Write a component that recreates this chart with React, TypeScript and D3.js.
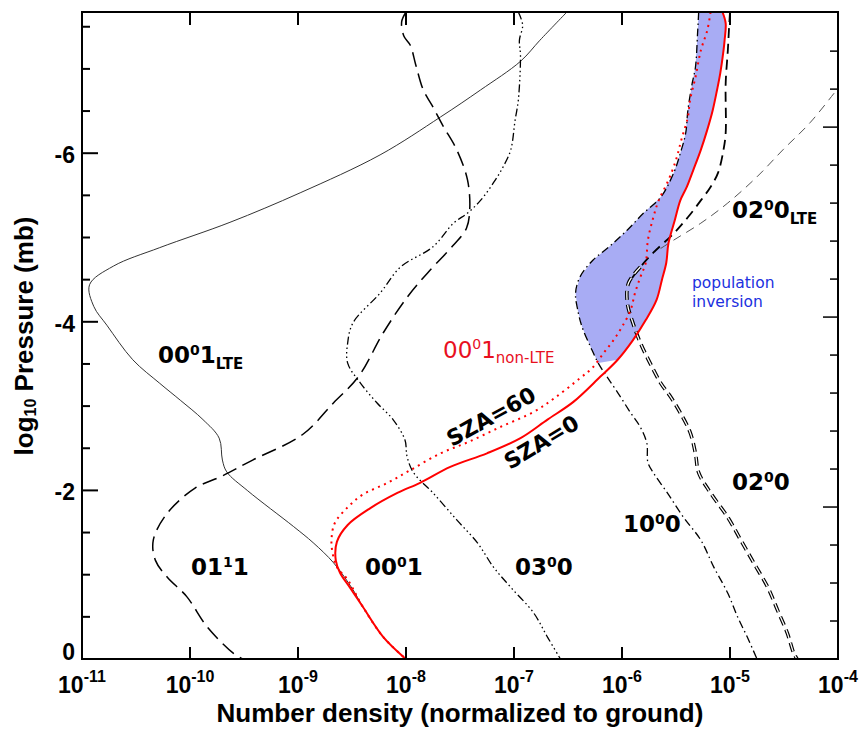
import React from 'react';
import * as d3 from 'd3';

type P = [number, number]; // [log10 number density, log10 pressure]

// ---------- axis ticks ----------
const xTickExps = [-11, -10, -9, -8, -7, -6, -5, -4];
const yMajorTicks = [0, -2, -4, -6];
const yMinorTicks = [-0.5, -1, -1.5, -2.5, -3, -3.5, -4.5, -5, -5.5, -6.5, -7, -7.5];
const altTicks = [20, 30, 40, 50, 60, 70, 80, 90, 100, 110, 120, 130, 140, 150, 160, 170];
const altMajorTicks = [50, 100, 150];

// ---------- series ----------
const lte001: P[] = [
  [-6.51, -7.675], [-6.76, -7.34], [-6.94, -7.09], [-7.31, -6.75], [-7.68, -6.43], [-8.24, -5.98],
  [-8.98, -5.53], [-9.63, -5.18], [-10.28, -4.88], [-10.71, -4.66], [-10.93, -4.44], [-10.89, -4.18],
  [-10.77, -3.96], [-10.53, -3.55], [-10.28, -3.27], [-10.09, -3.07], [-9.88, -2.84], [-9.73, -2.62],
  [-9.70, -2.36], [-9.66, -2.22], [-9.47, -2.0], [-9.04, -1.57], [-8.86, -1.38], [-8.67, -1.14],
  [-8.49, -0.82], [-8.40, -0.62], [-8.21, -0.26], [-8.01, -0.01],
];

const v0111: P[] = [
  [-8.0, -7.675], [-8.04, -7.56], [-8.02, -7.39], [-7.96, -7.28], [-7.91, -7.05], [-7.84, -6.75],
  [-7.76, -6.57], [-7.66, -6.33], [-7.53, -6.04], [-7.43, -5.68], [-7.41, -5.33], [-7.44, -5.11],
  [-7.56, -4.91], [-7.80, -4.58], [-7.99, -4.29], [-8.21, -3.87], [-8.44, -3.35], [-8.67, -3.04],
  [-8.96, -2.66], [-9.42, -2.36], [-9.72, -2.16], [-9.95, -2.03], [-10.21, -1.73], [-10.34, -1.41],
  [-10.32, -1.17], [-10.21, -0.97], [-10.03, -0.74], [-9.84, -0.38], [-9.60, -0.07], [-9.51, 0],
];

const v0300: P[] = [
  [-6.96, -7.675], [-6.92, -7.52], [-6.95, -7.34], [-6.94, -7.16], [-6.96, -6.63], [-6.99, -6.39],
  [-7.03, -6.04], [-7.10, -5.84], [-7.19, -5.65], [-7.31, -5.44], [-7.43, -5.29], [-7.56, -5.17],
  [-7.75, -4.89], [-8.05, -4.65], [-8.24, -4.34], [-8.49, -3.99], [-8.54, -3.75], [-8.54, -3.51],
  [-8.42, -3.27], [-8.27, -3.04], [-8.12, -2.84], [-8.01, -2.60], [-7.99, -2.40], [-7.93, -2.21],
  [-7.75, -1.97], [-7.53, -1.65], [-7.34, -1.38], [-7.19, -1.09], [-7.03, -0.85], [-6.82, -0.55],
  [-6.69, -0.26], [-6.57, 0],
];

const v1000: P[] = [
  [-5.29, -7.675], [-5.30, -7.43], [-5.32, -7.02], [-5.35, -6.83], [-5.39, -6.51], [-5.41, -6.24],
  [-5.46, -6.0], [-5.52, -5.77], [-5.64, -5.48], [-5.80, -5.29], [-5.95, -5.09], [-6.11, -4.90],
  [-6.27, -4.73], [-6.39, -4.53], [-6.43, -4.34], [-6.41, -4.14], [-6.37, -3.94], [-6.29, -3.70],
  [-6.22, -3.51], [-6.14, -3.35], [-6.04, -3.16], [-5.92, -2.92], [-5.83, -2.75], [-5.77, -2.56],
  [-5.76, -2.33], [-5.71, -2.21], [-5.58, -1.97], [-5.43, -1.68], [-5.27, -1.41], [-5.15, -1.09],
  [-5.02, -0.78], [-4.93, -0.50], [-4.84, -0.26], [-4.75, 0],
];

const v0200: P[] = [
  [-5.0, -7.675], [-5.01, -7.46], [-5.02, -7.22], [-5.04, -6.83], [-5.04, -6.24], [-5.06, -6.04],
  [-5.11, -5.77], [-5.18, -5.60], [-5.27, -5.44], [-5.39, -5.24], [-5.52, -5.05], [-5.71, -4.82],
  [-5.83, -4.65], [-5.94, -4.46], [-5.95, -4.22], [-5.90, -3.99], [-5.83, -3.75], [-5.74, -3.51],
  [-5.64, -3.27], [-5.55, -3.11], [-5.46, -2.92], [-5.37, -2.69], [-5.32, -2.44], [-5.29, -2.21],
  [-5.18, -1.97], [-5.02, -1.68], [-4.90, -1.41], [-4.78, -1.14], [-4.65, -0.85], [-4.56, -0.58],
  [-4.47, -0.31], [-4.41, -0.07], [-4.38, 0],
];

const lte0200: P[] = [
  [-3.95, -6.85], [-4.0, -6.77], [-4.26, -6.36], [-4.51, -6.04], [-4.75, -5.72], [-5.02, -5.41],
  [-5.27, -5.17], [-5.52, -4.97], [-5.69, -4.83],
];

const nlte001Sza0: P[] = [
  [-5.07, -7.675], [-5.04, -7.54], [-5.05, -7.34], [-5.06, -7.22], [-5.09, -6.95], [-5.12, -6.75],
  [-5.16, -6.51], [-5.21, -6.28], [-5.27, -6.04], [-5.34, -5.80], [-5.40, -5.60], [-5.46, -5.44],
  [-5.51, -5.21], [-5.57, -4.93], [-5.59, -4.70], [-5.63, -4.50], [-5.68, -4.26], [-5.78, -4.02],
  [-5.90, -3.78], [-6.04, -3.55], [-6.20, -3.35], [-6.45, -3.05], [-6.69, -2.84], [-6.94, -2.62],
  [-7.25, -2.44], [-7.59, -2.28], [-7.87, -2.09], [-8.08, -1.97], [-8.33, -1.79], [-8.54, -1.59],
  [-8.64, -1.39], [-8.65, -1.17], [-8.61, -1.02], [-8.52, -0.85], [-8.40, -0.62], [-8.21, -0.26],
  [-8.01, -0.01],
];

const nlte001Sza60: P[] = [
  [-5.18, -7.675], [-5.21, -7.46], [-5.27, -7.22], [-5.32, -6.90], [-5.37, -6.63], [-5.39, -6.43],
  [-5.45, -6.16], [-5.50, -5.92], [-5.57, -5.68], [-5.66, -5.44], [-5.71, -5.24], [-5.76, -4.97],
  [-5.78, -4.70], [-5.83, -4.53], [-5.88, -4.34], [-5.92, -4.14], [-6.0, -3.94], [-6.08, -3.78],
  [-6.17, -3.63], [-6.27, -3.46], [-6.39, -3.33], [-6.62, -3.10], [-6.82, -2.93], [-7.13, -2.75],
  [-7.43, -2.57], [-7.68, -2.44], [-7.96, -2.24], [-8.17, -2.09], [-8.40, -1.95], [-8.54, -1.80],
  [-8.66, -1.61], [-8.69, -1.41], [-8.68, -1.26], [-8.64, -1.09], [-8.54, -0.94], [-8.40, -0.62],
  [-8.21, -0.26], [-8.01, -0.01],
];

// ---------- layout ----------
const L = 82, R = 838, T = 12, B = 659;
const x = d3.scaleLog().domain([1e-11, 1e-4]).range([L, R]);
const y = d3.scaleLinear().domain([0, -7.675]).range([B, T]);
const alt = d3.scaleLinear().domain([10, 180.3]).range([B, T]);

const px = (d: P) => x(Math.pow(10, d[0]));
const py = (d: P) => y(d[1]);
const smooth = d3.line<P>().x(px).y(py).curve(d3.curveCatmullRom.alpha(0.5));
const straight = d3.line<P>().x(px).y(py);

type Kind = 'n' | 'sup' | 'sub';
type Part = [string, Kind];

function Rich(props: {
  x: number; y: number; parts: Part[]; size: number; supSize: number; subSize: number;
  supDy: number; subDy: number; family: string; weight?: string | number; fill?: string;
  anchor?: string; transform?: string;
}) {
  let cur = 0;
  return (
    <text x={props.x} y={props.y} fontFamily={props.family} fontWeight={props.weight ?? 'bold'}
      fill={props.fill ?? '#000'} textAnchor={props.anchor ?? 'start'} transform={props.transform}
      fontSize={props.size}>
      {props.parts.map(([t, k], i) => {
        const target = k === 'sup' ? -props.supDy : k === 'sub' ? props.subDy : 0;
        const dy = target - cur;
        cur = target;
        const fs = k === 'n' ? props.size : k === 'sup' ? props.supSize : props.subSize;
        return <tspan key={i} dy={dy} fontSize={fs}>{t}</tspan>;
      })}
    </text>
  );
}

const AXF = '"Liberation Sans", Arial, Helvetica, sans-serif';
const LBF = '"DejaVu Sans", Verdana, sans-serif';

function Lab({ x: lx, y: ly, parts }: { x: number; y: number; parts: Part[] }) {
  return <Rich x={lx} y={ly} parts={parts} size={23} supSize={14} subSize={15} supDy={8} subDy={6} family={LBF} />;
}

export default function App() {
  const shade: P[] = [
    ...v1000.filter(d => d[1] < -3.4),
    ...nlte001Sza0.filter(d => d[1] < -3.4).reverse(),
  ];
  const v0200Upper = v0200.filter(d => d[1] <= -4.4);
  const v0200Lower = v0200.filter(d => d[1] >= -4.66);
  return (
    <svg width={861} height={729} style={{ position: 'absolute', left: 0, top: 0, background: '#fff' }}>
      <defs>
        <clipPath id="plotclip"><rect x={L} y={T} width={R - L} height={B - T} /></clipPath>
      </defs>
      <rect x={0} y={0} width={861} height={729} fill="#fff" />

      <g clipPath="url(#plotclip)">
        <path d={straight(shade) + 'Z'} fill="#a8acf4" stroke="none" />
        <path d={smooth(lte001)!} fill="none" stroke="#333" strokeWidth={1} />
        <path d={smooth(lte0200)!} fill="none" stroke="#555" strokeWidth={1} strokeDasharray="9,6" />
        <path d={smooth(v0111)!} fill="none" stroke="#000" strokeWidth={1.5} strokeDasharray="15,7" />
        <path d={smooth(v0300)!} fill="none" stroke="#000" strokeWidth={1.3} strokeDasharray="8,3,1.5,3,1.5,3,1.5,3" />
        <path d={smooth(v1000)!} fill="none" stroke="#000" strokeWidth={1.3} strokeDasharray="8,3.5,1.5,3.5" />
        <path d={smooth(v0200Upper)!} fill="none" stroke="#000" strokeWidth={1.8} strokeDasharray="10,6" />
        <path d={smooth(v0200Lower)!} fill="none" stroke="#000" strokeWidth={3.6} strokeDasharray="9,5" />
        <path d={smooth(v0200Lower)!} fill="none" stroke="#fff" strokeWidth={1.3} strokeDasharray="9,5" />
        <path d={smooth(nlte001Sza60)!} fill="none" stroke="#ff0000" strokeWidth={2} strokeDasharray="2,4.5" />
        <path d={smooth(nlte001Sza0)!} fill="none" stroke="#ff0000" strokeWidth={2} />
      </g>

      {/* frame */}
      <rect x={L} y={T} width={R - L} height={B - T} fill="none" stroke="#000" strokeWidth={2} />

      {/* x ticks */}
      {xTickExps.map(e => {
        const xx = x(Math.pow(10, e));
        return (
          <g key={'xt' + e}>
            <line x1={xx} x2={xx} y1={B} y2={B - 12} stroke="#000" strokeWidth={2} />
            <line x1={xx} x2={xx} y1={T} y2={T + 13} stroke="#000" strokeWidth={2} />
            <Rich x={xx} y={693} parts={[['10', 'n'], [String(e), 'sup']]} size={23} supSize={16}
              subSize={16} supDy={11} subDy={0} family={AXF} anchor="middle" />
          </g>
        );
      })}

      {/* y ticks */}
      {yMajorTicks.map(t => (
        <g key={'ym' + t}>
          <line x1={L} x2={L + 16} y1={y(t)} y2={y(t)} stroke="#000" strokeWidth={2} />
          <text x={75} y={Math.min(y(t) + 2, 652) + 8} textAnchor="end" fontFamily={AXF}
            fontWeight="bold" fontSize={23}>{t === 0 ? '0' : '-' + Math.abs(t)}</text>
        </g>
      ))}
      {yMinorTicks.map(t => (
        <line key={'yn' + t} x1={L} x2={L + 8} y1={y(t)} y2={y(t)} stroke="#000" strokeWidth={2} />
      ))}

      {/* right axis ticks */}
      {altTicks.map(a => {
        const len = altMajorTicks.includes(a) ? 15 : 8;
        return <line key={'ra' + a} x1={R} x2={R - len} y1={alt(a)} y2={alt(a)} stroke="#000" strokeWidth={1.5} />;
      })}

      {/* axis titles */}
      <text x={(L + R) / 2} y={722} textAnchor="middle" fontFamily={AXF} fontWeight="bold" fontSize={26}>
        Number density (normalized to ground)
      </text>
      <Rich x={0} y={0} transform="translate(33,336) rotate(-90)" anchor="middle"
        parts={[['log', 'n'], ['10', 'sub'], [' Pressure (mb)', 'n']]} size={26} supSize={16}
        subSize={16} supDy={0} subDy={3} family={AXF} />

      {/* curve labels */}
      <Lab x={158} y={363} parts={[['00', 'n'], ['0', 'sup'], ['1', 'n'], ['LTE', 'sub']]} />
      <Lab x={191} y={575} parts={[['01', 'n'], ['1', 'sup'], ['1', 'n']]} />
      <Lab x={365} y={575} parts={[['00', 'n'], ['0', 'sup'], ['1', 'n']]} />
      <Lab x={515} y={575} parts={[['03', 'n'], ['0', 'sup'], ['0', 'n']]} />
      <Lab x={623} y={532} parts={[['10', 'n'], ['0', 'sup'], ['0', 'n']]} />
      <Lab x={732} y={490} parts={[['02', 'n'], ['0', 'sup'], ['0', 'n']]} />
      <Lab x={732} y={218} parts={[['02', 'n'], ['0', 'sup'], ['0', 'n'], ['LTE', 'sub']]} />

      <Rich x={443} y={358} parts={[['00', 'n'], ['0', 'sup'], ['1', 'n'], ['non-LTE', 'sub']]}
        size={23} supSize={14} subSize={15} supDy={9} subDy={5} family={LBF} weight="normal" fill="#e8101e" />

      <text transform="translate(452,447) rotate(-29)" fontFamily={LBF} fontWeight="bold" fontSize={22}>SZA=60</text>
      <text transform="translate(510,470) rotate(-31)" fontFamily={LBF} fontWeight="bold" fontSize={22}>SZA=0</text>

      <text x={692} y={288} fontFamily={LBF} fontSize={15.5} fill="#2030e0">population</text>
      <text x={692} y={307} fontFamily={LBF} fontSize={15.5} fill="#2030e0">inversion</text>
    </svg>
  );
}
